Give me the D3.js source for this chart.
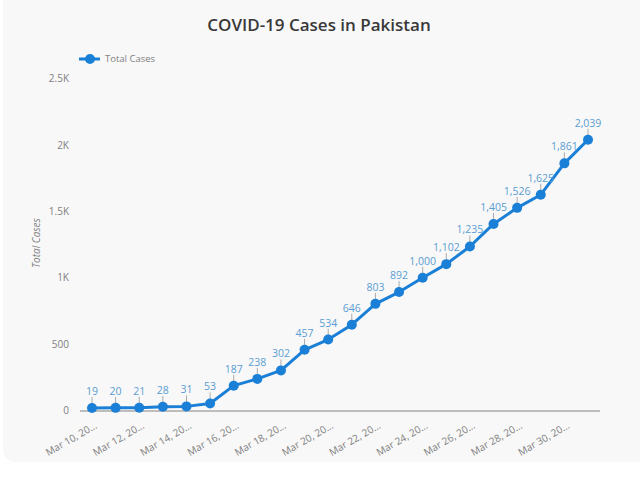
<!DOCTYPE html>
<html>
<head>
<meta charset="utf-8">
<script src="https://cdn.jsdelivr.net/npm/d3@7"></script>
<style>
  body { margin: 0; background: #fff; }
  svg { display: block; font-family: 'Open Sans', 'Noto Sans', sans-serif; }
</style>
</head>
<body>
<svg id="chart" width="640" height="486"></svg>
<script>
// Dates (Mar 10 .. Mar 31, 2020)
const dates = ['Mar 10, 2020', 'Mar 11, 2020', 'Mar 12, 2020', 'Mar 13, 2020', 'Mar 14, 2020',
  'Mar 15, 2020', 'Mar 16, 2020', 'Mar 17, 2020', 'Mar 18, 2020', 'Mar 19, 2020', 'Mar 20, 2020',
  'Mar 21, 2020', 'Mar 22, 2020', 'Mar 23, 2020', 'Mar 24, 2020', 'Mar 25, 2020', 'Mar 26, 2020',
  'Mar 27, 2020', 'Mar 28, 2020', 'Mar 29, 2020', 'Mar 30, 2020', 'Mar 31, 2020']
const totalCases = [19, 20, 21, 28, 31, 53, 187, 238, 302, 457, 534, 646, 803, 892, 1000,
  1102, 1235, 1405, 1526, 1625, 1861, 2039]
const yTicks = [0, 500, 1000, 1500, 2000, 2500]
const yTickLabels = ['0', '500', '1K', '1.5K', '2K', '2.5K']

const LINE_COLOR = '#1a7fd6'
const LABEL_COLOR = '#5a9dd3'
const AXIS_TEXT = '#808080'

const svg = d3.select('#chart')

// card background
svg.append('rect')
  .attr('x', 3).attr('y', -20)
  .attr('width', 660).attr('height', 482)
  .attr('rx', 12).attr('ry', 12)
  .attr('fill', '#f8f8f8')

// title
svg.append('text')
  .attr('x', 319).attr('y', 31)
  .attr('text-anchor', 'middle')
  .style('font-size', '17px')
  .style('font-weight', 600)
  .style('fill', '#383838')
  .text('COVID-19 Cases in Pakistan')

// legend
let legend = svg.append('g').attr('transform', 'translate(79,59)')
legend.append('line')
  .attr('x1', 0).attr('x2', 21).attr('y1', 0).attr('y2', 0)
  .attr('stroke', LINE_COLOR).attr('stroke-width', 3)
legend.append('circle').attr('cx', 11).attr('cy', 0).attr('r', 5).attr('fill', LINE_COLOR)
legend.append('text')
  .attr('x', 26).attr('y', 0).attr('dy', '0.35em')
  .style('font-size', '9.5px').style('fill', AXIS_TEXT)
  .text('Total Cases')

const x = d3.scalePoint()
  .domain(dates)
  .range([92, 588])
const y = d3.scaleLinear()
  .domain([0, 2500])
  .range([410.5, 78.5])

// y axis (labels only)
let yAxis = svg.append('g')
  .attr('transform', 'translate(72,0)')
  .call(d3.axisLeft(y).tickValues(yTicks).tickFormat((d, i) => yTickLabels[i]).tickSize(0))
yAxis.select('.domain').remove()
yAxis.selectAll('text')
  .style('font-size', '10px')
  .style('fill', AXIS_TEXT)
  .style('font-family', "'Open Sans', sans-serif")

// y title
svg.append('text')
  .attr('transform', 'translate(40,243) rotate(-90)')
  .attr('text-anchor', 'middle')
  .style('font-size', '10px')
  .style('font-style', 'italic')
  .style('fill', AXIS_TEXT)
  .text('Total Cases')

// x axis line
svg.append('line')
  .attr('x1', 80).attr('x2', 600)
  .attr('y1', y(0) + 0.5).attr('y2', y(0) + 0.5)
  .attr('stroke', '#aaa').attr('stroke-width', 1.5)

// x tick labels (every second day, truncated)
let xAxis = svg.append('g')
  .attr('transform', `translate(0,${y(0) + 8})`)
  .call(d3.axisBottom(x).tickValues(dates.filter((d, i) => i % 2 === 0)).tickSize(0)
    .tickFormat(d => d.slice(0, 10) + '\u2026'))
xAxis.select('.domain').remove()
xAxis.selectAll('text')
  .attr('text-anchor', 'end')
  .attr('transform', 'rotate(-30)')
  .attr('dx', '0em')
  .attr('dy', '0.75em')
  .style('font-size', '10px')
  .style('fill', AXIS_TEXT)
  .style('font-family', "'Open Sans', sans-serif")

// line
const lineGen = d3.line()
  .x((d, i) => x(dates[i]))
  .y(d => y(d))
svg.append('path')
  .datum(totalCases)
  .attr('fill', 'none')
  .attr('stroke', LINE_COLOR)
  .attr('stroke-width', 3)
  .attr('stroke-linejoin', 'round')
  .attr('d', lineGen)

// leader lines for labels
svg.selectAll('line.leader')
  .data(totalCases)
  .join('line')
  .attr('class', 'leader')
  .attr('x1', (d, i) => x(dates[i])).attr('x2', (d, i) => x(dates[i]))
  .attr('y1', d => y(d) - 4).attr('y2', d => y(d) - 11)
  .attr('stroke', '#aaa').attr('stroke-width', 1)

// points
svg.selectAll('circle.pt')
  .data(totalCases)
  .join('circle')
  .attr('class', 'pt')
  .attr('cx', (d, i) => x(dates[i]))
  .attr('cy', d => y(d))
  .attr('r', 5)
  .attr('fill', LINE_COLOR)

// value labels
svg.selectAll('text.val')
  .data(totalCases)
  .join('text')
  .attr('class', 'val')
  .attr('x', (d, i) => x(dates[i]))
  .attr('y', d => y(d) - 13)
  .attr('text-anchor', 'middle')
  .style('font-size', '10.5px')
  .style('fill', LABEL_COLOR)
  .text(d => d3.format(',')(d))
</script>
</body>
</html>
